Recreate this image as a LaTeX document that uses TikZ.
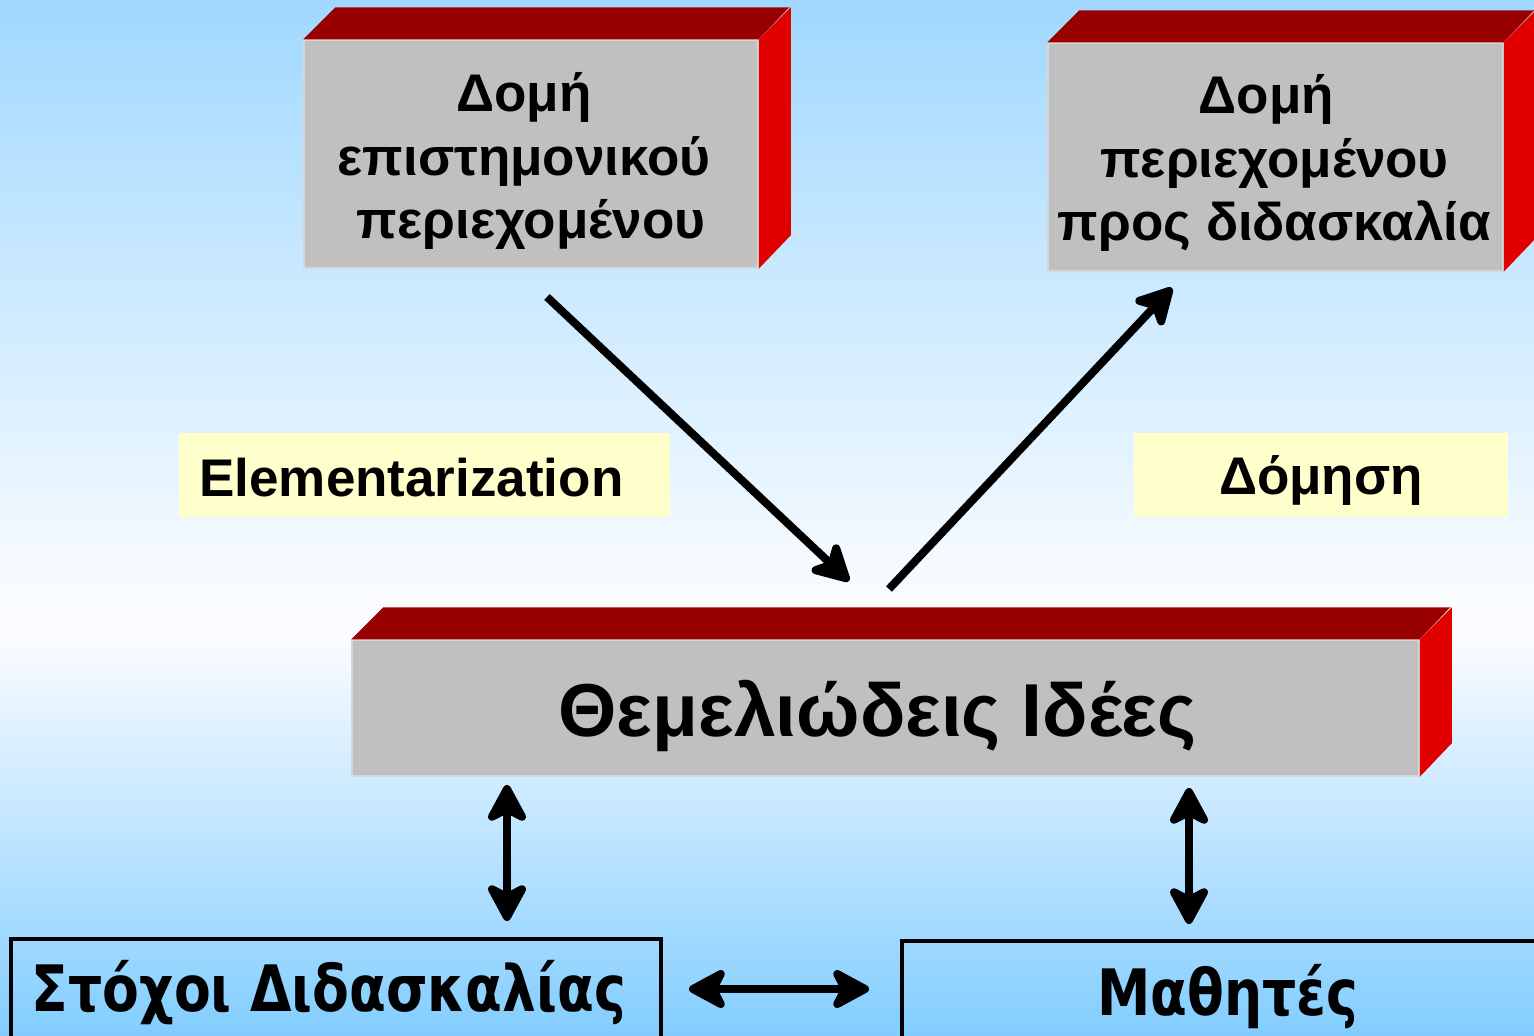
\documentclass[tikz,border=0pt]{standalone}
\usepackage{fontspec}
\setmainfont{Liberation Sans}
\newfontfamily\narrowfont{DejaVu Sans Condensed}[FakeStretch=0.93]
\usetikzlibrary{arrows.meta}
\definecolor{bgtop}{RGB}{160,216,255}
\definecolor{bgmid}{RGB}{250,252,255}
\definecolor{bgbot}{RGB}{130,205,255}
\definecolor{facegray}{RGB}{192,192,192}
\definecolor{topred}{RGB}{153,0,0}
\definecolor{sidered}{RGB}{224,0,0}
\definecolor{labelyellow}{RGB}{255,255,204}
\tikzset{
  front/.style={rectangle, fill=facegray, draw={rgb,255:red,215;green,215;blue,215}, line width=1.5pt, inner sep=0pt},
  toptext/.style={align=center, font=\bfseries\fontsize{53}{63.5}\selectfont},
  topface/.style={fill=topred},
  sideface/.style={fill=sidered},
  tag/.style={rectangle, fill=labelyellow, inner sep=0pt},
  tagtext/.style={font=\bfseries\fontsize{53}{60}\selectfont},
  plain/.style={rectangle, draw=black, line width=4pt, inner sep=0pt, font=\narrowfont\bfseries\fontsize{64}{70}\selectfont},
  headtip/.tip={Stealth[length=45pt,width=48pt,inset=12pt,round]},
  bigarrow/.style={line width=8pt, -headtip},
  dblarrow/.style={line width=8pt, headtip-headtip},
}
\begin{document}
\begin{tikzpicture}[x=1pt,y=-1pt]
\useasboundingbox (0,0) rectangle (1534,1036);
% background
\shade[top color=bgtop, bottom color=bgmid] (0,0) rectangle (1534,600);
\fill[bgmid] (0,599) rectangle (1534,640);
\shade[top color=bgmid, bottom color=bgbot] (0,639) rectangle (1534,1036);

% top-left box
\node[front, minimum width=454pt, minimum height=228pt,
  label={[toptext, xshift=-7pt, yshift=-7pt]center:{Δομή\\επιστημονικού\\\hspace*{14pt}περιεχομένου}}] (b1) at (531,154) {};
\fill[topface] (b1.north west) -- ++(32,-32) -- ++(454,0) -- (b1.north east) -- cycle;
\fill[sideface] (b1.north east) -- ++(32,-32) -- ++(0,228) -- (b1.south east) -- cycle;

% top-right box
\node[front, minimum width=455pt, minimum height=228pt,
  label={[toptext, xshift=-1pt, yshift=-6pt]center:{Δομή\hspace*{16pt}\\περιεχομένου\\προς διδασκαλία}}] (b2) at (1275.5,157) {};
\fill[topface] (b2.north west) -- ++(32,-32) -- ++(455,0) -- (b2.north east) -- cycle;
\fill[sideface] (b2.north east) -- ++(32,-32) -- ++(0,228) -- (b2.south east) -- cycle;

% middle box
\node[front, minimum width=1067pt, minimum height=136pt,
  label={[font=\bfseries\fontsize{75}{80}\selectfont, xshift=-8pt, yshift=-8pt]center:{Θεμελιώδεις Ιδέες}}] (b3) at (885.5,708) {};
\fill[topface] (b3.north west) -- ++(32,-32) -- ++(1067,0) -- (b3.north east) -- cycle;
\fill[sideface] (b3.north east) -- ++(32,-32) -- ++(0,136) -- (b3.south east) -- cycle;

% labels
\node[tag, minimum width=491pt, minimum height=84pt,
  label={[tagtext, anchor=west, xshift=17pt, yshift=-3pt]west:{Elementarization}}] (l1) at (424.5,475) {};
\node[tag, minimum width=374pt, minimum height=84pt,
  label={[tagtext, yshift=-5pt]center:{Δόμηση}}] (l2) at (1321,475) {};

% bottom boxes
\node[plain, minimum width=650pt, minimum height=110pt,
  label={[font=\narrowfont\bfseries\fontsize{64}{70}\selectfont, xshift=-7pt, yshift=1pt]center:{Στόχοι Διδασκαλίας}}] (s1) at (336,994) {};
\node[plain, minimum width=660pt, minimum height=110pt,
  label={[font=\narrowfont\bfseries\fontsize{64}{70}\selectfont, xshift=-4pt, yshift=-1pt]center:{Μαθητές}}] (s2) at (1232,996) {};

% arrows
\coordinate (a1s) at (547,297);
\coordinate (a1e) at (849,581);
\coordinate (a2s) at (889,589);
\coordinate (a2e) at (1172,288);
\draw[bigarrow] (a1s) -- (a1e);
\draw[bigarrow] (a2s) -- (a2e);

\coordinate (v1t) at (507,785);
\coordinate (v1b) at (507,921);
\coordinate (v2t) at (1189,788);
\coordinate (v2b) at (1189,924);
\draw[dblarrow] (v1t) -- (v1b);
\draw[dblarrow] (v2t) -- (v2b);

\coordinate (hl) at (689,989);
\coordinate (hr) at (869,989);
\draw[dblarrow] (hl) -- (hr);
\end{tikzpicture}
\end{document}
